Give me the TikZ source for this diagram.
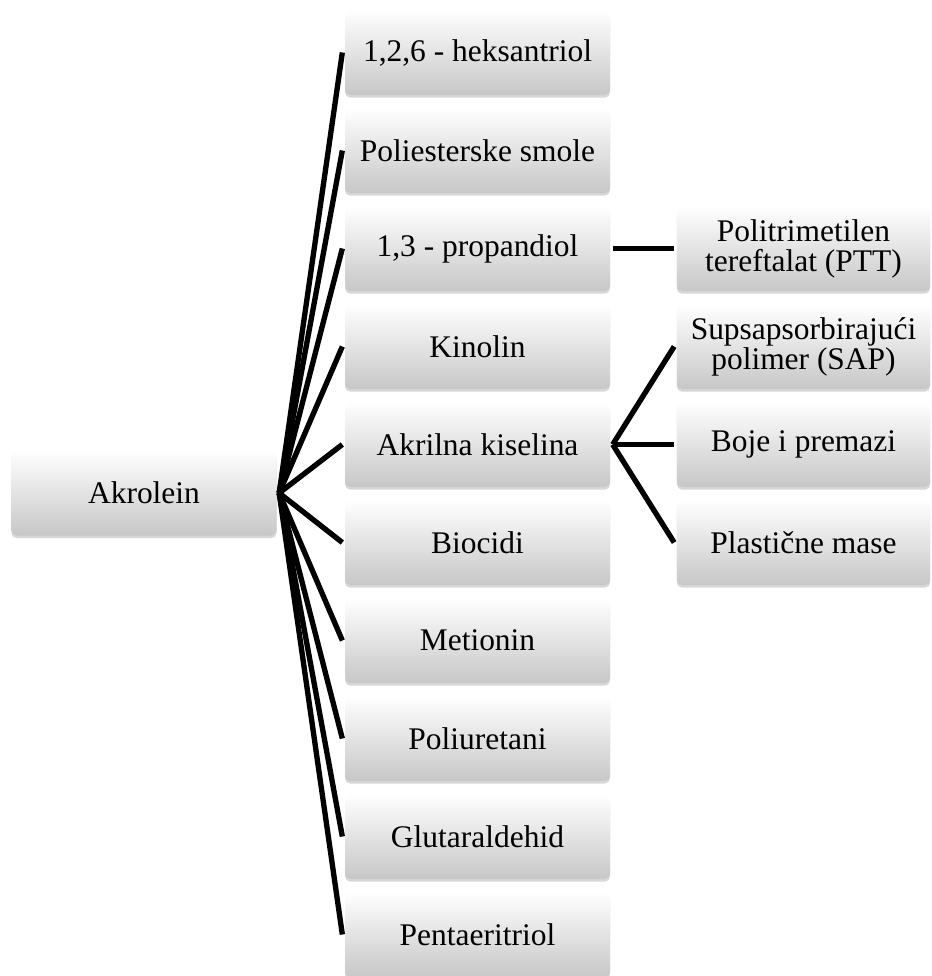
\documentclass[tikz,border=0pt]{standalone}
\usepackage{fontspec}
\setmainfont{Liberation Serif}
\usepackage{tikz}
\usetikzlibrary{positioning,shadows}
\definecolor{boxgray}{rgb}{0.78, 0.78, 0.78}
\definecolor{shadowgray}{rgb}{0.55, 0.55, 0.55}

\begin{document}
\begin{tikzpicture}[x=0.75pt, y=-0.75pt, node distance = 73.5pt and 244.5pt, on grid, line width=4pt,
	box/.style={rectangle, rounded corners=4pt, top color=white, bottom color=boxgray, minimum width=198.75pt, minimum height=63.75pt, align=center, inner sep=0pt, font=\fontsize{23.6pt}{22.5pt}\selectfont, drop shadow={shadow xshift=0pt, shadow yshift=-2pt, opacity=.35, fill=shadowgray}},
	rbox/.style={box, minimum width=190pt}]
			\useasboundingbox (0,0) rectangle (932,976);
			\node [box] (AKRO) at (144,493) {Akrolein};
			\node [box] (HEKS) at (477.5,52.5) {1,2,6 - heksantriol};
			\node [box] (SMOL) [below =of HEKS] {Poliesterske smole};
			\node [box] (PROP) [below =of SMOL] {1,3 - propandiol};
			\node [box] (KINO) [below =of PROP] {Kinolin};
			\node [box] (AKRK) [below =of KINO] {Akrilna kiselina};
			\node [box] (BIOC) [below =of AKRK] {Biocidi};
			\node [box] (METI) [below =of BIOC] {Metionin};
			\node [box] (PURE) [below =of METI] {Poliuretani};
			\node [box] (GLUT) [below =of PURE] {Glutaraldehid};
			\node [box] (PENT) [below =of GLUT] {Pentaeritriol};
			\node [rbox] (PTT) [right =of PROP] {Politrimetilen\\tereftalat (PTT)};
			\node [rbox] (SAP) [right =of KINO] {Supsapsorbirajući\\polimer (SAP)};
			\node [rbox] (BOJE) [right =of AKRK] {Boje i premazi};
			\node [rbox] (PLAS) [right =of BIOC] {Plastične mase};
			\path (AKRO.east) edge (HEKS.west);
			\path (AKRO.east) edge (SMOL.west);
			\path (AKRO.east) edge (PROP.west);
			\path (AKRO.east) edge (KINO.west);
			\path (AKRO.east) edge (AKRK.west);
			\path (AKRO.east) edge (BIOC.west);
			\path (AKRO.east) edge (METI.west);
			\path (AKRO.east) edge (PURE.west);
			\path (AKRO.east) edge (GLUT.west);
			\path (AKRO.east) edge (PENT.west);
			\path (PROP.east) edge (PTT.west);
			\path (AKRK.east) edge (SAP.west);
			\path (AKRK.east) edge (BOJE.west);
			\path (AKRK.east) edge (PLAS.west);
		\end{tikzpicture}
\end{document}
